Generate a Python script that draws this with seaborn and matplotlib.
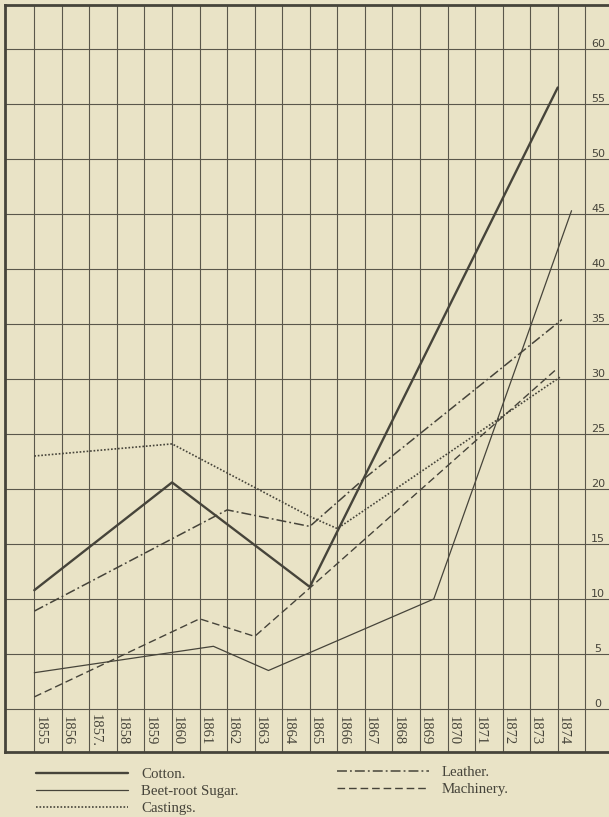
import matplotlib
matplotlib.use("Agg")
import matplotlib.pyplot as plt
import seaborn as sns

# ---------------- data ----------------
cotton_years = [1855, 1860, 1865, 1874]
cotton_vals = [10.8, 20.6, 11.1, 56.5]

sugar_years = [1855, 1861.5, 1863.5, 1869.5, 1874.5]
sugar_vals = [3.3, 5.7, 3.5, 10.0, 45.3]

castings_years = [1855, 1860, 1865, 1866, 1874.1]
castings_vals = [23.0, 24.1, 17.5, 16.4, 30.2]

leather_years = [1855, 1862, 1865, 1867, 1874.15]
leather_vals = [8.9, 18.1, 16.6, 21.0, 35.4]

machinery_years = [1855, 1861, 1863, 1865, 1874]
machinery_vals = [1.1, 8.2, 6.6, 11.0, 31.0]

grid_years = list(range(1855, 1876))
year_positions = list(range(1855, 1875))
year_labels = ["1855", "1856", "1857.", "1858", "1859", "1860", "1861", "1862",
               "1863", "1864", "1865", "1866", "1867", "1868", "1869", "1870",
               "1871", "1872", "1873", "1874"]
y_ticks = [0, 5, 10, 15, 20, 25, 30, 35, 40, 45, 50, 55, 60]
y_tick_labels = [str(v) for v in y_ticks]

series_labels = ["Cotton.", "Beet-root Sugar.", "Castings.", "Leather.", "Machinery."]

# ---------------- style ----------------
BG = "#e9e3c6"
INK = "#46443a"
GRID = "#5a574b"

sns.set_style("white")
plt.rcParams["font.family"] = ["DejaVu Sans"]

W, H = 609, 817
fig = plt.figure(figsize=(W / 100, H / 100), dpi=100, facecolor=BG)

# axes frame: left 5px, top 5px, bottom 752px, right = figure edge
ax = fig.add_axes([5 / W, 1 - 752 / H, (W - 5) / W, (752 - 5) / H])
ax.set_facecolor(BG)

x0_px, dx_px = 34.3, 27.55      # 1855 position and px per year
y0_px, dy_px = 709.0, 11.0      # value 0 position and px per unit
ax.set_xlim(1855 - (x0_px - 5) / dx_px, 1855 + (W - x0_px) / dx_px)
ax.set_ylim((y0_px - 752) / dy_px, (y0_px - 5) / dy_px)

ax.set_xticks(grid_years)
ax.set_yticks(y_ticks)
ax.set_yticklabels(y_tick_labels)
ax.grid(True, color=GRID, lw=0.8)
ax.set_axisbelow(True)

ax.tick_params(axis="x", length=0, labelbottom=False)
ax.yaxis.tick_right()
ax.tick_params(axis="y", length=0, labelright=True, labelleft=False,
               pad=-11 * 0.72, labelsize=8, labelcolor=INK)
for t in ax.get_yticklabels():
    t.set_horizontalalignment("center")
    t.set_verticalalignment("bottom")

for s in ["top", "left", "bottom"]:
    ax.spines[s].set_visible(True)
    ax.spines[s].set_color(INK)
    ax.spines[s].set_linewidth(2.0)
ax.spines["right"].set_visible(False)

# ---------------- series ----------------
sns.lineplot(x=cotton_years, y=cotton_vals, ax=ax, color=INK, lw=1.7,
             label=series_labels[0])
sns.lineplot(x=sugar_years, y=sugar_vals, ax=ax, color=INK, lw=0.9,
             label=series_labels[1])
sns.lineplot(x=castings_years, y=castings_vals, ax=ax, color=INK, lw=1.2,
             linestyle=(0, (1, 1.1)), label=series_labels[2])
sns.lineplot(x=leather_years, y=leather_vals, ax=ax, color=INK, lw=1.1,
             linestyle=(0, (6.5, 2, 1.2, 2)), label=series_labels[3])
sns.lineplot(x=machinery_years, y=machinery_vals, ax=ax, color=INK, lw=1.0,
             linestyle=(0, (5.5, 2.8)), label=series_labels[4])
ax.set_xlabel("")
ax.set_ylabel("")

# year labels in the strip below the zero line
for yr, lab in zip(year_positions, year_labels):
    ax.text(yr + 0.2, -2.0, lab, rotation=-90, ha="center", va="center",
            fontsize=10.5, family="Liberation Serif", color=INK)

# ---------------- legend ----------------
handles, labels = ax.get_legend_handles_labels()
common = dict(loc="upper left", bbox_transform=fig.transFigure, frameon=False,
              borderpad=0, borderaxespad=0, handlelength=6.2, handletextpad=0.87,
              labelspacing=0.22, prop={"family": "Liberation Serif", "size": 10.7},
              labelcolor=INK)
leg1 = ax.legend(handles[:3], labels[:3], bbox_to_anchor=(36 / W, 1 - 768 / H), **common)
ax.add_artist(leg1)
leg2 = ax.legend(handles[3:], labels[3:], bbox_to_anchor=(337 / W, 1 - 766 / H), **common)

fig.savefig("out.png", dpi=100, facecolor=BG)
